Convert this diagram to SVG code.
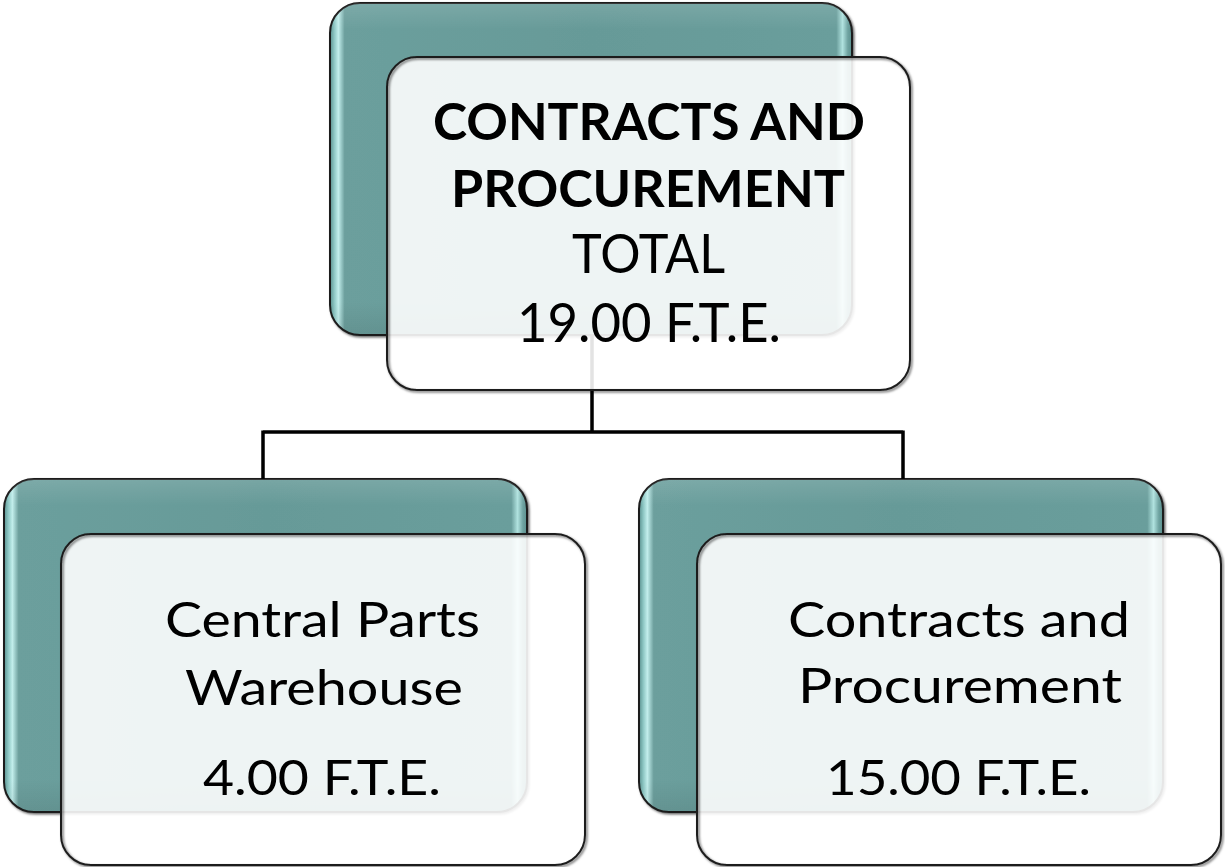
<svg xmlns="http://www.w3.org/2000/svg" width="1225" height="867" viewBox="0 0 1225 867">
<defs>
<linearGradient id="teal" x1="0" y1="0" x2="1" y2="0">
<stop offset="0" stop-color="#5a908e"/>
<stop offset="0.008" stop-color="#8cc6c3"/>
<stop offset="0.016" stop-color="#c2eeec"/>
<stop offset="0.028" stop-color="#6c9f9d"/>
<stop offset="0.5" stop-color="#669a98"/>
<stop offset="0.97" stop-color="#6a9e9c"/>
<stop offset="0.982" stop-color="#b0e2df"/>
<stop offset="0.992" stop-color="#6fa3a1"/>
<stop offset="1" stop-color="#5a908e"/>
</linearGradient>
<linearGradient id="tealV" x1="0" y1="0" x2="0" y2="1">
<stop offset="0" stop-color="#ffffff" stop-opacity="0.12"/>
<stop offset="0.08" stop-color="#ffffff" stop-opacity="0"/>
<stop offset="0.9" stop-color="#000000" stop-opacity="0"/>
<stop offset="1" stop-color="#000000" stop-opacity="0.08"/>
</linearGradient>
<filter id="sh" x="-5%" y="-5%" width="110%" height="110%">
<feDropShadow dx="1.5" dy="1.5" stdDeviation="0.8" flood-color="#000" flood-opacity="0.6"/>
</filter>
</defs>
<style>
.back{fill:url(#teal);stroke:#1e1e1e;stroke-width:2}
.backv{fill:url(#tealV);stroke:none}
.frontfill{fill:#ffffff;fill-opacity:0.89;stroke:none}
.frontline{fill:none;stroke:#1e1e1e;stroke-width:2}
.conn{fill:none;stroke:#000;stroke-width:3.5}
text{font-family:"Lato","Liberation Sans",sans-serif;fill:#000;text-anchor:middle}
.b{font-weight:bold;font-size:52px}
.r{font-size:54px}
.s{font-size:49px}
</style>
<rect width="1225" height="867" fill="#ffffff"/>
<g id="back-boxes">
<rect class="back" x="330" y="3" width="522" height="332" rx="30" ry="30" filter="url(#sh)"/>
<rect class="backv" x="330" y="3" width="522" height="332" rx="30" ry="30"/>
<rect class="back" x="4" y="479" width="523" height="333" rx="30" ry="30" filter="url(#sh)"/>
<rect class="backv" x="4" y="479" width="523" height="333" rx="30" ry="30"/>
<rect class="back" x="639" y="479" width="524" height="333" rx="30" ry="30" filter="url(#sh)"/>
<rect class="backv" x="639" y="479" width="524" height="333" rx="30" ry="30"/>
</g>
<g id="connectors">
<path class="conn" d="M592 335 V432 M263 432 H903 M263 430.5 V479 M903 430.5 V479"/>
</g>
<g id="node-top">
<rect class="frontfill" x="387" y="57" width="523" height="333" rx="30" ry="30"/>
<rect class="frontline" x="387" y="57" width="523" height="333" rx="30" ry="30" filter="url(#sh)"/>
<text class="b" x="649" y="140" textLength="432" lengthAdjust="spacingAndGlyphs">CONTRACTS AND</text>
<text class="b" x="648" y="207" textLength="394" lengthAdjust="spacingAndGlyphs">PROCUREMENT</text>
<text class="r" x="648.5" y="273" textLength="153" lengthAdjust="spacingAndGlyphs">TOTAL</text>
<text class="r" x="649" y="342" textLength="264" lengthAdjust="spacingAndGlyphs">19.00 F.T.E.</text>
</g>
<g id="node-warehouse">
<rect class="frontfill" x="61" y="534" width="524" height="331" rx="30" ry="30"/>
<rect class="frontline" x="61" y="534" width="524" height="331" rx="30" ry="30" filter="url(#sh)"/>
<text class="s" x="322.5" y="637" textLength="315" lengthAdjust="spacingAndGlyphs">Central Parts</text>
<text class="s" x="324" y="705" textLength="278" lengthAdjust="spacingAndGlyphs">Warehouse</text>
<text class="s" x="322" y="795" textLength="238" lengthAdjust="spacingAndGlyphs">4.00 F.T.E.</text>
</g>
<g id="node-contracts">
<rect class="frontfill" x="697" y="534" width="524" height="331" rx="30" ry="30"/>
<rect class="frontline" x="697" y="534" width="524" height="331" rx="30" ry="30" filter="url(#sh)"/>
<text class="s" x="959" y="637" textLength="342" lengthAdjust="spacingAndGlyphs">Contracts and</text>
<text class="s" x="960" y="703" textLength="324" lengthAdjust="spacingAndGlyphs">Procurement</text>
<text class="s" x="958.5" y="795" textLength="265" lengthAdjust="spacingAndGlyphs">15.00 F.T.E.</text>
</g>
</svg>
